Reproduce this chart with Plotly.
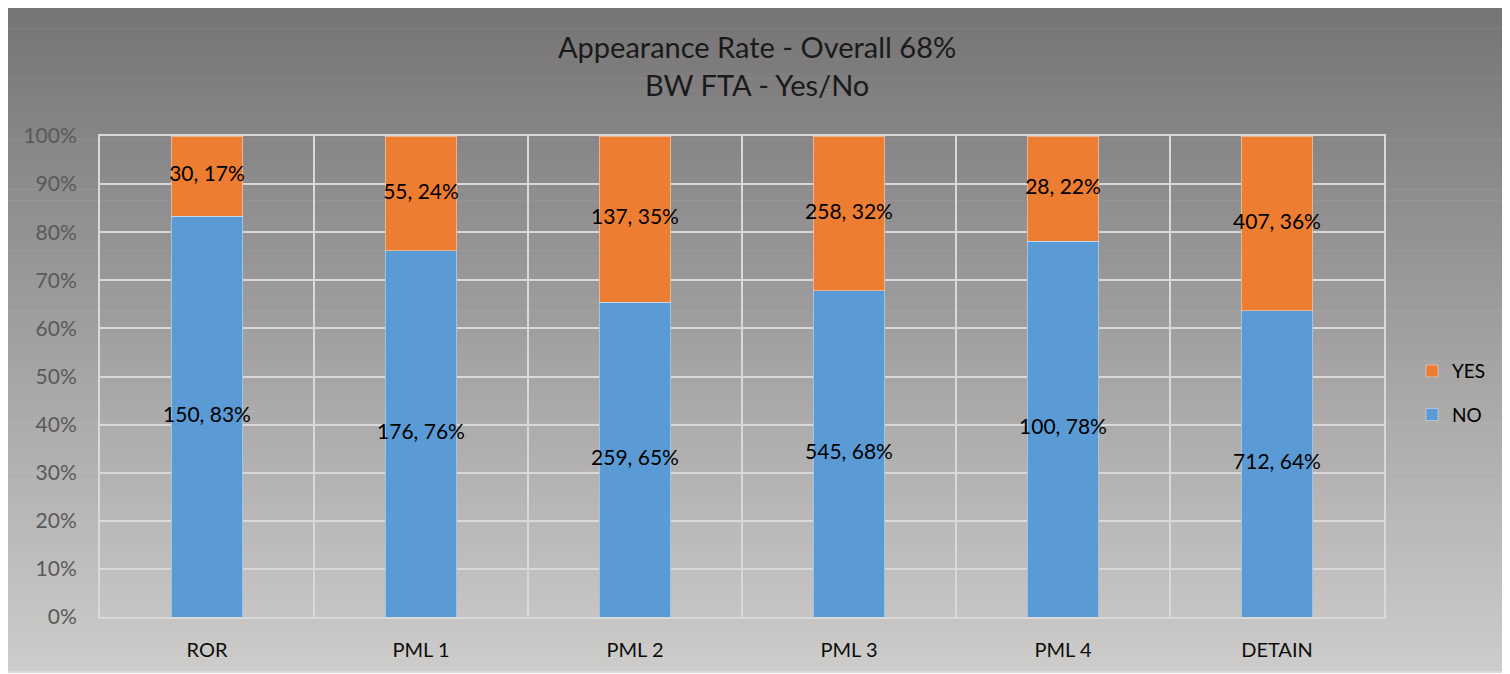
import plotly.graph_objects as go

# chart data
categories = ["ROR", "PML 1", "PML 2", "PML 3", "PML 4", "DETAIN"]
no_counts = [150, 176, 259, 545, 100, 712]
yes_counts = [30, 55, 137, 258, 28, 407]
title_line1 = "Appearance Rate - Overall 68%"
title_line2 = "BW FTA - Yes/No"

totals = [n + y for n, y in zip(no_counts, yes_counts)]
no_pct = [100.0 * n / t for n, t in zip(no_counts, totals)]
yes_pct = [100.0 * y / t for y, t in zip(yes_counts, totals)]

no_labels = [f"{n}, {round(p)}%" for n, p in zip(no_counts, no_pct)]
yes_labels = [f"{y}, {round(p)}%" for y, p in zip(yes_counts, yes_pct)]

FONT = "Lato"
BLUE = "#5B9BD5"
ORANGE = "#ED7D31"
GRID = "#d9d9d9"

# page body has an 8px margin, so the figure is shrunk and shifted by that
OFF = 8
W, H = 1510 - OFF, 674 - OFF
# plot area in page pixels: x 100..1384, y 136..617
ML, MR, MT, MB = 100 - OFF, W - (1384 - OFF), 136 - OFF, H - (617 - OFF)
pw, ph = W - ML - MR, H - MT - MB


def px_x(x):
    return (x - OFF - ML) / pw


def px_y(y):
    return (H - MB - (y - OFF)) / ph


fig = go.Figure()

fig.add_trace(go.Bar(x=categories, y=no_pct, name="NO", marker_color=BLUE,
                     legendgroup="no", legendrank=2, hoverinfo="skip"))
fig.add_trace(go.Bar(x=categories, y=yes_pct, name="YES", marker_color=ORANGE,
                     legendgroup="yes", legendrank=1, hoverinfo="skip"))

# data labels centred in each segment
fig.add_trace(go.Scatter(x=categories, y=[p / 2 for p in no_pct], text=no_labels,
                         mode="text", showlegend=False, hoverinfo="skip",
                         textfont=dict(family=FONT, size=21, color="#000000")))
fig.add_trace(go.Scatter(x=categories, y=[n + p / 2 for n, p in zip(no_pct, yes_pct)],
                         text=yes_labels, mode="text", showlegend=False, hoverinfo="skip",
                         textfont=dict(family=FONT, size=21, color="#000000")))

# gradient background made of thin strips
top_c = (118, 116, 117)
bot_c = (205, 204, 203)
y0_px, y1_px = 6, 672
n_strips = 120
shapes = []
for i in range(n_strips):
    a = y0_px + (y1_px - y0_px) * i / n_strips
    b = y0_px + (y1_px - y0_px) * (i + 1) / n_strips + 0.6
    t = i / (n_strips - 1)
    c = tuple(round(top_c[k] + (bot_c[k] - top_c[k]) * t) for k in range(3))
    shapes.append(dict(type="rect", xref="paper", yref="paper", layer="below",
                       x0=px_x(7), x1=px_x(1506), y0=px_y(b), y1=px_y(a),
                       line=dict(width=0), fillcolor=f"rgb{c}"))
# chart frame
shapes.append(dict(type="rect", xref="paper", yref="paper", layer="below",
                   x0=px_x(7), x1=px_x(1506), y0=px_y(672), y1=px_y(6),
                   line=dict(color=GRID, width=2), fillcolor="rgba(0,0,0,0)"))

annotations = [
    dict(text=title_line1, xref="paper", yref="paper", x=px_x(757), y=px_y(46),
         xanchor="center", yanchor="middle", showarrow=False,
         font=dict(family=FONT, size=29, color="#1a1a1a")),
    dict(text=title_line2, xref="paper", yref="paper", x=px_x(757), y=px_y(85),
         xanchor="center", yanchor="middle", showarrow=False,
         font=dict(family=FONT, size=29, color="#1a1a1a")),
]

fig.update_layout(
    width=W, height=H,
    margin=dict(l=ML, r=MR, t=MT, b=MB),
    barmode="stack",
    bargap=0.664,
    paper_bgcolor="white",
    plot_bgcolor="rgba(0,0,0,0)",
    shapes=shapes,
    annotations=annotations,
    font=dict(family=FONT),
    legend=dict(x=px_x(1412), y=px_y(393), xanchor="left", yanchor="middle",
                traceorder="grouped", tracegroupgap=16,
                bgcolor="rgba(0,0,0,0)",
                font=dict(family=FONT, size=19, color="#000000")),
    xaxis=dict(type="category", tickson="boundaries", showgrid=True,
               gridcolor=GRID, gridwidth=2, showline=True, mirror=True,
               linecolor=GRID, linewidth=2, ticks="", ticklabelstandoff=14,
               tickfont=dict(family=FONT, size=20, color="#0d0d0d")),
    yaxis=dict(range=[0, 100], dtick=10, ticksuffix="%", showgrid=True,
               gridcolor=GRID, gridwidth=2, zeroline=False, showline=True,
               mirror=True, linecolor=GRID, linewidth=2, ticks="",
               ticklabelstandoff=17,
               tickfont=dict(family=FONT, size=21, color="#595959")),
)

fig.write_html("out.html")
